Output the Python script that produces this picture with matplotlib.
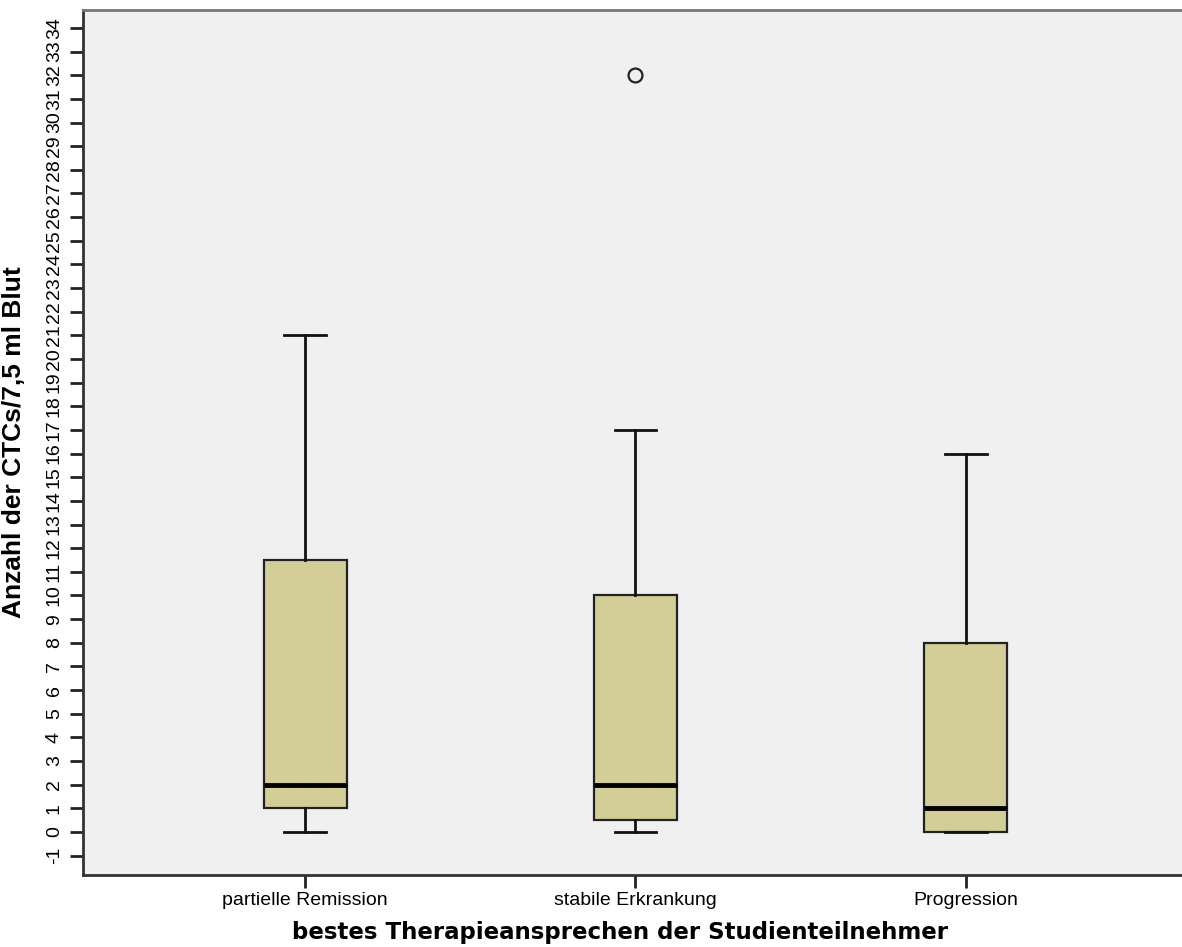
import matplotlib.pyplot as plt

plt.rcParams['font.family'] = ['Liberation Sans', 'DejaVu Sans']

# Therapieansprechen -> CTC-Zahlen (Boxplot-Kennwerte)
gruppen = ['partielle Remission', 'stabile Erkrankung', 'Progression']
q1 = [1, 0.5, 0]
median = [2, 2, 1]
q3 = [11.5, 10, 8]
whisker_lo = [0, 0, 0]
whisker_hi = [21, 17, 16]
ausreisser = [[], [32], []]
y_ticks = list(range(-1, 35))

stats = []
for i in range(len(gruppen)):
    stats.append({'label': gruppen[i], 'q1': q1[i], 'med': median[i], 'q3': q3[i],
                  'whislo': whisker_lo[i], 'whishi': whisker_hi[i], 'fliers': ausreisser[i]})

fig = plt.figure(figsize=(11.82, 9.47), dpi=100)
ax = fig.add_axes([83 / 1182, 1 - 875 / 947, 1 - 83 / 1182, 865 / 947])
ax.set_facecolor('#F0F0F0')

ax.bxp(stats, positions=[1, 2, 3], widths=0.252, capwidths=0.127, patch_artist=True,
       boxprops=dict(facecolor='#D3CE97', edgecolor='#222222', linewidth=1.6),
       medianprops=dict(color='black', linewidth=3.5, solid_capstyle='butt'),
       whiskerprops=dict(color='#111111', linewidth=2),
       capprops=dict(color='#111111', linewidth=2),
       flierprops=dict(marker='o', markersize=10, markerfacecolor='none',
                       markeredgecolor='#222222', markeredgewidth=1.6))

ax.set_xlim(0.327, 3.655)
ax.set_ylim(-1.82, 34.76)
ax.set_yticks(y_ticks)
ax.set_yticklabels([str(t) for t in y_ticks], rotation=90, va='center', fontsize=14)
ax.set_xticks([1, 2, 3])
ax.set_xticklabels(gruppen, fontsize=14)
ax.tick_params(axis='both', length=9.5, width=2, color='#222222')
ax.tick_params(axis='y', pad=5)
ax.tick_params(axis='x', pad=3)

for side in ['left', 'bottom', 'top']:
    ax.spines[side].set_linewidth(2)
    ax.spines[side].set_color('#333333')
ax.spines['top'].set_color('#777777')
ax.spines['right'].set_visible(False)

ax.set_ylabel('Anzahl der CTCs/7,5 ml Blut', fontsize=19, fontweight='bold', va='center')
ax.yaxis.set_label_coords(-0.0628, 0.5)
ax.set_xlabel('bestes Therapieansprechen der Studienteilnehmer', fontsize=16.5,
              fontweight='bold', family=['DejaVu Sans'], va='center')
ax.xaxis.set_label_coords(0.4886, -0.0659)

fig.savefig('out.png', dpi=100)
